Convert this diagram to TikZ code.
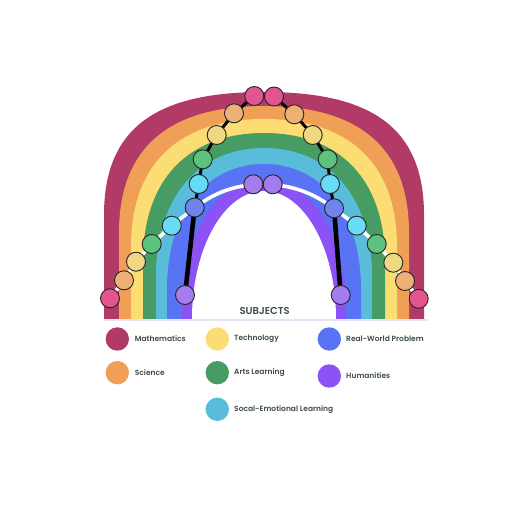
\documentclass[tikz,border=0pt]{standalone}
\usepackage{fontspec}
\setmainfont{Poppins}
\newfontfamily\semifont{Poppins SemiBold}
\pgfdeclarelayer{bands}
\pgfdeclarelayer{lines}
\pgfsetlayers{bands,lines,main}
\definecolor{cmath}{HTML}{B13A66}
\definecolor{corange}{HTML}{EFA056}
\definecolor{cyellow}{HTML}{FBDD73}
\definecolor{cgreen}{HTML}{469C63}
\definecolor{clblue}{HTML}{58BCDA}
\definecolor{cblue}{HTML}{5873F3}
\definecolor{cpurple}{HTML}{8B52F5}
\definecolor{dpink}{HTML}{E2558E}
\definecolor{dorange}{HTML}{EDB177}
\definecolor{dyellow}{HTML}{EFD881}
\definecolor{dgreen}{HTML}{5CC27E}
\definecolor{dlblue}{HTML}{68DCF6}
\definecolor{dblue}{HTML}{6F83EC}
\definecolor{dpurple}{HTML}{A57CF0}
\definecolor{txt}{HTML}{3E4D4A}
\definecolor{lav}{HTML}{E6E4F4}
\newcommand{\archband}[6]{\fill[#1] ({264-#2},319) -- ({264-#2},#3) .. controls ({264-#2},#4) and ({264-#5},#6) .. (264,#6) .. controls ({264+#5},#6) and ({264+#2},#4) .. ({264+#2},#3) -- ({264+#2},319) -- cycle;}
\tikzset{
  dot/.style={circle,draw={black!85},line width=0.9pt,minimum size=19pt,inner sep=0pt,fill=#1},
  key/.style={circle,minimum size=23.4pt,inner sep=0pt,fill=#1},
  keytext/.style={anchor=west,inner sep=0pt,text=txt,font=\semifont\fontsize{7.5}{9}\selectfont},
  blk/.style={line width=3pt,black},
  blkthick/.style={line width=4.6pt,black},
  wht/.style={line width=3.6pt,white},
}
\begin{document}
\begin{tikzpicture}[x=1pt,y=-1pt]
\useasboundingbox (0,0) rectangle (510,510);
% rainbow bands
\begin{pgfonlayer}{bands}
\fill[white] (0,0) rectangle (510,510);
\archband{cmath}{160}{215}{125}{104}{92}
\archband{corange}{145}{232.7}{146}{93.1}{106}
\archband{cyellow}{133}{246.9}{162.9}{84.3}{119}
\archband{cgreen}{121}{261.1}{179.6}{75.6}{133}
\archband{clblue}{108}{276.5}{197.9}{66.1}{148}
\archband{cblue}{97}{289.5}{213.3}{58}{164}
\archband{cpurple}{82}{307.1}{234.2}{47.1}{180}
\archband{white}{72}{319}{248.3}{39.8}{191}
\draw[lav,line width=1.5pt] (104,320.2) -- (428,320.2);
\end{pgfonlayer}
% beads
\node[dot=dpink]   (pT1) at (254.3,96) {};
\node[dot=dpink]   (pT2) at (274,96.5) {};
\node[dot=dorange] (oL) at (234,113.3) {};
\node[dot=dorange] (oR) at (294.3,114.3) {};
\node[dot=dyellow] (yL) at (216.7,135) {};
\node[dot=dyellow] (yR) at (312.7,135) {};
\node[dot=dgreen]  (gL) at (202.7,159.3) {};
\node[dot=dgreen]  (gR) at (327.7,159.3) {};
\node[dot=dlblue]  (lL) at (198.7,184) {};
\node[dot=dlblue]  (lR) at (330,184) {};
\node[dot=dblue]   (bL) at (194.7,207.5) {};
\node[dot=dblue]   (bR) at (334,208.3) {};
\node[dot=dpurple] (uT1) at (253.3,184.3) {};
\node[dot=dpurple] (uT2) at (272.7,184.3) {};
\node[dot=dlblue]  (lL2) at (171.7,225.7) {};
\node[dot=dlblue]  (lR2) at (356.7,225.7) {};
\node[dot=dgreen]  (gL2) at (151.7,244) {};
\node[dot=dgreen]  (gR2) at (376.7,244) {};
\node[dot=dyellow] (yL2) at (136,261.7) {};
\node[dot=dyellow] (yR2) at (393.3,262.7) {};
\node[dot=dorange] (oL2) at (124,280.3) {};
\node[dot=dorange] (oR2) at (405,281) {};
\node[dot=dpink]   (pL2) at (110,298.3) {};
\node[dot=dpink]   (pR2) at (418.7,298.8) {};
\node[dot=dpurple] (uL) at (185,295) {};
\node[dot=dpurple] (uR) at (340.7,295) {};
\begin{pgfonlayer}{lines}
\draw[wht] (pL2.center) -- (oL2.center) -- (yL2.center) -- (gL2.center) -- (lL2.center) -- (bL.center) to[bend left=14] (uT1.center) -- (uT2.center) to[bend left=14] (bR.center) -- (lR2.center) -- (gR2.center) -- (yR2.center) -- (oR2.center) -- (pR2.center);
\draw[blkthick] (uL.center) -- (bL.center);
\draw[blkthick] (uR.center) -- (bR.center);
\draw[blk,line join=round] (bL.center) -- (lL.center) -- (gL.center) -- (yL.center) -- (oL.center) -- (pT1.center) -- (pT2.center) -- (oR.center) -- (yR.center) -- (gR.center) -- (lR.center) -- (bR.center);
\end{pgfonlayer}
% legend
\node[text=txt,inner sep=0pt,font=\semifont\fontsize{10}{12}\selectfont] (title) at (264.6,311) {SUBJECTS};
\node[key=cmath]   (k1) at (117.3,339) {};
\node[key=corange] (k2) at (117.3,372.7) {};
\node[key=cyellow] (k3) at (217.3,339) {};
\node[key=cgreen]  (k4) at (217.3,372.7) {};
\node[key=clblue]  (k5) at (217.3,409.3) {};
\node[key=cblue]   (k6) at (329.3,339) {};
\node[key=cpurple] (k7) at (329.3,376) {};
\node[keytext] (t1) at (134.7,339) {Mathematics};
\node[keytext] (t2) at (134.7,373) {Science};
\node[keytext] (t3) at (234,339) {Technology};
\node[keytext] (t4) at (234,373) {Arts Learning};
\node[keytext] (t5) at (234,409.3) {Socal-Emotional Learning};
\node[keytext] (t6) at (346,339) {Real-World Problem};
\node[keytext] (t7) at (346,376) {Humanities};
\end{tikzpicture}
\end{document}
